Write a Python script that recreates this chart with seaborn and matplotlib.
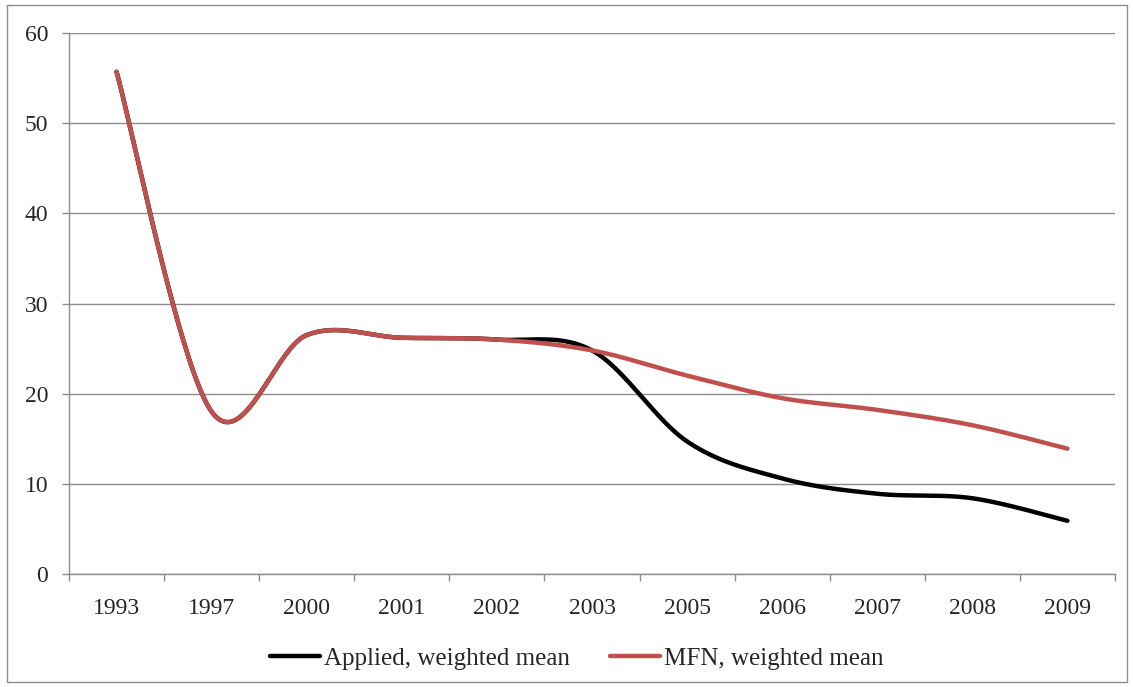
import numpy as np
import pandas as pd
import matplotlib
matplotlib.use("Agg")
import matplotlib.pyplot as plt
from matplotlib.patches import Rectangle
import seaborn as sns

# Tariff rates (%) by year
years = ["1993", "1997", "2000", "2001", "2002", "2003", "2005", "2006", "2007", "2008", "2009"]
applied = [55.7, 18.0, 26.5, 26.2, 26.0, 24.8, 14.7, 10.6, 8.9, 8.4, 5.9]
mfn = [55.7, 18.0, 26.5, 26.2, 26.0, 24.8, 22.0, 19.5, 18.2, 16.5, 13.9]
series_names = ["Applied, weighted mean", "MFN, weighted mean"]
colors = ["#000000", "#C0504D"]


def smooth(xs, ys, n=40):
    """Cubic Bezier smoothing through every point (Catmull-Rom style tangents)."""
    xs = np.asarray(xs, float)
    ys = np.asarray(ys, float)
    px = np.concatenate([[xs[0]], xs, [xs[-1]]])
    py = np.concatenate([[ys[0]], ys, [ys[-1]]])
    out_x, out_y = [], []
    t = np.linspace(0, 1, n, endpoint=False)
    for i in range(1, len(px) - 2):
        p0 = np.array([px[i], py[i]])
        p3 = np.array([px[i + 1], py[i + 1]])
        c1 = p0 + (p3 - np.array([px[i - 1], py[i - 1]])) / 6.0
        c2 = p3 - (np.array([px[i + 2], py[i + 2]]) - p0) / 6.0
        b = ((1 - t) ** 3)[:, None] * p0 + (3 * (1 - t) ** 2 * t)[:, None] * c1 \
            + (3 * (1 - t) * t ** 2)[:, None] * c2 + (t ** 3)[:, None] * p3
        out_x.extend(b[:, 0])
        out_y.extend(b[:, 1])
    out_x.append(xs[-1])
    out_y.append(ys[-1])
    return np.array(out_x), np.array(out_y)


pos = np.arange(len(years))
frames = []
for name, vals in zip(series_names, [applied, mfn]):
    sx, sy = smooth(pos, vals)
    frames.append(pd.DataFrame({"x": sx, "y": sy, "series": name}))
df = pd.concat(frames, ignore_index=True)

sns.set_style("white")
plt.rcParams["font.family"] = ["Liberation Serif", "DejaVu Serif"]

fig = plt.figure(figsize=(11.33, 6.87), dpi=100)
ax = fig.add_axes([69 / 1133, 1 - 574 / 687, (1115 - 69) / 1133, (574 - 33) / 687])

sns.lineplot(data=df, x="x", y="y", hue="series", hue_order=series_names,
             palette=colors, sort=False, estimator=None, units="series",
             linewidth=3.2, ax=ax, legend=True)
for ln in ax.get_lines():
    ln.set_solid_capstyle("round")

grid_c = "#8C8C8C"
ax.set_xlim(-0.5, len(years) - 0.5)
ax.set_ylim(0, 60)
ax.set_yticks(np.arange(0, 61, 10))
ax.set_xticks(pos)
ax.set_xticklabels(years)
ax.set_xticks(np.arange(-0.5, len(years), 1.0), minor=True)
ax.set_xlabel("")
ax.set_ylabel("")
ax.yaxis.grid(True, color=grid_c, linewidth=1.0)
ax.xaxis.grid(False)
ax.set_axisbelow(True)
for side in ["top", "right"]:
    ax.spines[side].set_visible(False)
for side in ["left", "bottom"]:
    ax.spines[side].set_color(grid_c)
    ax.spines[side].set_linewidth(1.0)

ax.tick_params(axis="y", which="major", direction="out", length=5, width=1,
               color=grid_c, labelsize=17, pad=10, left=True)
ax.tick_params(axis="x", which="major", length=0, labelsize=17, pad=17)
ax.tick_params(axis="x", which="minor", direction="out", length=5, width=1,
               color=grid_c, bottom=True)

sns.move_legend(ax, "lower center", bbox_to_anchor=(0.509, -0.008),
                bbox_transform=fig.transFigure, ncol=2, frameon=False, title=None,
                fontsize=18, handlelength=2.0, handletextpad=0.15, columnspacing=1.6)
for h in ax.get_legend().legend_handles:
    h.set_linewidth(3.2)
    h.set_solid_capstyle("round")

fig.patches.append(Rectangle((7 / 1133, 5 / 687), (1127 - 7) / 1133, (682 - 5) / 687,
                             transform=fig.transFigure, fill=False,
                             edgecolor="#8C8C8C", linewidth=1.0))

fig.savefig("out.png", dpi=100)
